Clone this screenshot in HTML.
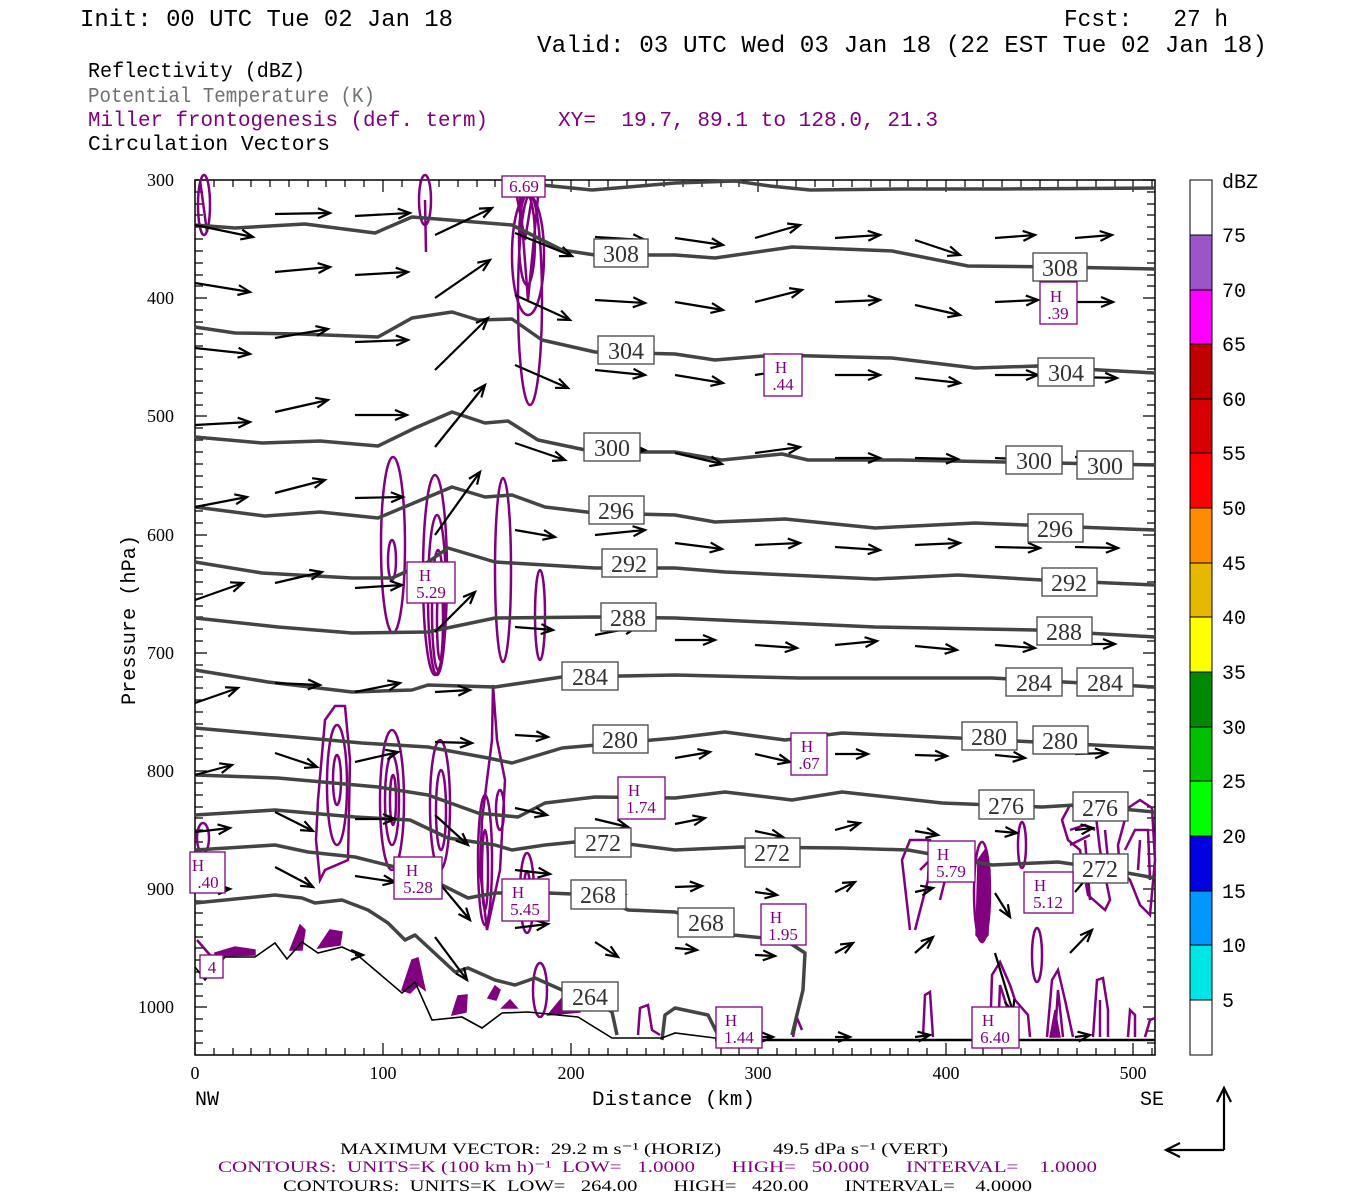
<!DOCTYPE html>
<html><head><meta charset="utf-8"><style>
html,body{margin:0;padding:0;background:#fff;}
svg{display:block;}
svg text{white-space:pre;}
</style></head><body>
<svg width="1350" height="1200" viewBox="0 0 1350 1200" xmlns="http://www.w3.org/2000/svg" xml:space="preserve">
<defs>
<marker id="ah" markerUnits="userSpaceOnUse" markerWidth="16" markerHeight="12" refX="13" refY="6" orient="auto">
<path d="M1,1 L13,6 L1,11" fill="none" stroke="#000" stroke-width="2.2"/>
</marker>
</defs>

<!-- Header -->
<g font-family="Liberation Mono, monospace" font-size="24" fill="#000">
<text x="80" y="26" textLength="373" lengthAdjust="spacingAndGlyphs">Init: 00 UTC Tue 02 Jan 18</text>
<text x="1064" y="26" textLength="164" lengthAdjust="spacingAndGlyphs">Fcst:   27 h</text>
<text x="537" y="52" textLength="730" lengthAdjust="spacingAndGlyphs">Valid: 03 UTC Wed 03 Jan 18 (22 EST Tue 02 Jan 18)</text>
</g>
<g font-family="Liberation Mono, monospace" font-size="21">
<text x="88" y="77" fill="#000" textLength="217" lengthAdjust="spacingAndGlyphs">Reflectivity (dBZ)</text>
<text x="88" y="102" fill="#707070" textLength="287" lengthAdjust="spacingAndGlyphs">Potential Temperature (K)</text>
<text x="88" y="126" fill="#800080" textLength="400" lengthAdjust="spacingAndGlyphs">Miller frontogenesis (def. term)</text>
<text x="558" y="126" fill="#800080" textLength="380" lengthAdjust="spacingAndGlyphs">XY=  19.7, 89.1 to 128.0, 21.3</text>
<text x="88" y="150" fill="#000" textLength="242" lengthAdjust="spacingAndGlyphs">Circulation Vectors</text>
</g>

<!-- Plot frame -->
<rect x="195" y="180" width="960" height="875" fill="#fff" stroke="#000" stroke-width="1.5"/>

<!-- Ticks -->
<g stroke="#000" stroke-width="1.2">
<path d="M195,180h12M195,192h8M195,204h8M195,215h8M195,227h8M195,239h8M195,251h8M195,263h8M195,275h8M195,286h8M195,298h12M195,310h8M195,322h8M195,334h8M195,346h8M195,357h8M195,369h8M195,381h8M195,393h8M195,405h8M195,416h12M195,428h8M195,440h8M195,452h8M195,464h8M195,476h8M195,487h8M195,499h8M195,511h8M195,523h8M195,535h12M195,546h8M195,558h8M195,570h8M195,582h8M195,594h8M195,606h8M195,617h8M195,629h8M195,641h8M195,653h12M195,665h8M195,677h8M195,688h8M195,700h8M195,712h8M195,724h8M195,736h8M195,748h8M195,759h8M195,771h12M195,783h8M195,795h8M195,807h8M195,818h8M195,830h8M195,842h8M195,854h8M195,866h8M195,878h8M195,889h12M195,901h8M195,913h8M195,925h8M195,937h8M195,948h8M195,960h8M195,972h8M195,984h8M195,996h8M195,1007h12M195,1019h8M195,1031h8M195,1043h8"/>
<path d="M1155,180h-12M1155,192h-8M1155,204h-8M1155,215h-8M1155,227h-8M1155,239h-8M1155,251h-8M1155,263h-8M1155,275h-8M1155,286h-8M1155,298h-12M1155,310h-8M1155,322h-8M1155,334h-8M1155,346h-8M1155,357h-8M1155,369h-8M1155,381h-8M1155,393h-8M1155,405h-8M1155,416h-12M1155,428h-8M1155,440h-8M1155,452h-8M1155,464h-8M1155,476h-8M1155,487h-8M1155,499h-8M1155,511h-8M1155,523h-8M1155,535h-12M1155,546h-8M1155,558h-8M1155,570h-8M1155,582h-8M1155,594h-8M1155,606h-8M1155,617h-8M1155,629h-8M1155,641h-8M1155,653h-12M1155,665h-8M1155,677h-8M1155,688h-8M1155,700h-8M1155,712h-8M1155,724h-8M1155,736h-8M1155,748h-8M1155,759h-8M1155,771h-12M1155,783h-8M1155,795h-8M1155,807h-8M1155,818h-8M1155,830h-8M1155,842h-8M1155,854h-8M1155,866h-8M1155,878h-8M1155,889h-12M1155,901h-8M1155,913h-8M1155,925h-8M1155,937h-8M1155,948h-8M1155,960h-8M1155,972h-8M1155,984h-8M1155,996h-8M1155,1007h-12M1155,1019h-8M1155,1031h-8M1155,1043h-8"/>
<path d="M195,180v12M214,180v7M233,180v7M251,180v7M270,180v7M289,180v7M308,180v7M326,180v7M345,180v7M364,180v7M383,180v12M402,180v7M420,180v7M439,180v7M458,180v7M477,180v7M495,180v7M514,180v7M533,180v7M552,180v7M571,180v12M589,180v7M608,180v7M627,180v7M646,180v7M664,180v7M683,180v7M702,180v7M721,180v7M739,180v7M758,180v12M777,180v7M796,180v7M815,180v7M833,180v7M852,180v7M871,180v7M890,180v7M908,180v7M927,180v7M946,180v12M965,180v7M983,180v7M1002,180v7M1021,180v7M1040,180v7M1058,180v7M1077,180v7M1096,180v7M1115,180v7M1133,180v12M1152,180v7"/>
<path d="M195,1055v-12M214,1055v-7M233,1055v-7M251,1055v-7M270,1055v-7M289,1055v-7M308,1055v-7M326,1055v-7M345,1055v-7M364,1055v-7M383,1055v-12M402,1055v-7M420,1055v-7M439,1055v-7M458,1055v-7M477,1055v-7M495,1055v-7M514,1055v-7M533,1055v-7M552,1055v-7M571,1055v-12M589,1055v-7M608,1055v-7M627,1055v-7M646,1055v-7M664,1055v-7M683,1055v-7M702,1055v-7M721,1055v-7M739,1055v-7M758,1055v-12M777,1055v-7M796,1055v-7M815,1055v-7M833,1055v-7M852,1055v-7M871,1055v-7M890,1055v-7M908,1055v-7M927,1055v-7M946,1055v-12M965,1055v-7M983,1055v-7M1002,1055v-7M1021,1055v-7M1040,1055v-7M1058,1055v-7M1077,1055v-7M1096,1055v-7M1115,1055v-7M1133,1055v-12M1152,1055v-7"/>
</g>

<!-- Axis labels -->
<g font-family="Liberation Serif, serif" font-size="18" fill="#000" text-anchor="end">
<text x="174" y="186">300</text><text x="174" y="304">400</text><text x="174" y="422">500</text>
<text x="174" y="541">600</text><text x="174" y="659">700</text><text x="174" y="777">800</text>
<text x="174" y="895">900</text><text x="174" y="1013">1000</text>
</g>
<g font-family="Liberation Serif, serif" font-size="18" fill="#000" text-anchor="middle">
<text x="195" y="1079">0</text><text x="383" y="1079">100</text><text x="571" y="1079">200</text>
<text x="758" y="1079">300</text><text x="946" y="1079">400</text><text x="1133" y="1079">500</text>
</g>
<g font-family="Liberation Mono, monospace" font-size="20" fill="#000">
<text x="195" y="1105">NW</text>
<text x="1140" y="1105">SE</text>
<text x="592" y="1105" textLength="163" lengthAdjust="spacingAndGlyphs">Distance (km)</text>
<text transform="translate(135,705) rotate(-90)" textLength="170" lengthAdjust="spacingAndGlyphs">Pressure (hPa)</text>
</g>

<!-- Purple frontogenesis contours -->
<g fill="none" stroke="#800080" stroke-width="2.5">
<ellipse cx="204" cy="205" rx="6" ry="30"/>
<path d="M200,180 L207,232"/>
<ellipse cx="425" cy="200" rx="6" ry="25"/>
<path d="M425,200 L426,252"/>
<ellipse cx="528" cy="255" rx="16" ry="60"/>
<ellipse cx="530" cy="300" rx="12" ry="105"/>
<ellipse cx="527" cy="240" rx="8" ry="45"/>
<path d="M517,197 L525,240 L532,197 M520,197 L528,300 L538,197"/>
<ellipse cx="393" cy="545" rx="12" ry="88"/>
<ellipse cx="392" cy="560" rx="4" ry="20"/>
<ellipse cx="435" cy="575" rx="12" ry="100"/>
<ellipse cx="437" cy="595" rx="9" ry="80"/>
<ellipse cx="438" cy="610" rx="6" ry="60"/>
<ellipse cx="440" cy="620" rx="3" ry="40"/>
<ellipse cx="503" cy="570" rx="8" ry="92"/>
<ellipse cx="540" cy="615" rx="5" ry="45"/>
<path d="M318,800 L325,720 L335,706 L345,706 L350,760 L348,860 L325,870 L320,880 L316,840 Z"/>
<ellipse cx="337" cy="785" rx="10" ry="60"/>
<ellipse cx="337" cy="780" rx="4" ry="25"/>
<ellipse cx="392" cy="800" rx="12" ry="70"/>
<ellipse cx="392" cy="800" rx="7" ry="45"/>
<ellipse cx="393" cy="800" rx="3" ry="25"/>
<ellipse cx="440" cy="805" rx="10" ry="65"/>
<ellipse cx="441" cy="810" rx="5" ry="40"/>
<path d="M493,685 L497,740 L505,780 L500,870 L487,930 L480,870 L482,820 L492,740 Z"/>
<ellipse cx="485" cy="860" rx="7" ry="65"/>
<ellipse cx="485" cy="870" rx="3" ry="40"/>
<ellipse cx="500" cy="810" rx="4" ry="20"/>
<ellipse cx="527" cy="893" rx="7" ry="40"/>
<ellipse cx="527" cy="893" rx="3" ry="22"/>
<ellipse cx="203" cy="838" rx="6" ry="15"/>
<path d="M197,940 L210,955 L210,965"/>
<ellipse cx="540" cy="990" rx="7" ry="27"/>
<path d="M910,930 L902,860 L910,840 L930,840 L928,880 L915,930"/>
<path d="M920,870 L930,860 L945,850 M945,880 L940,900"/>
<ellipse cx="982" cy="892" rx="8" ry="50"/>
<ellipse cx="1022" cy="845" rx="4" ry="23"/>
<path d="M1062,820 L1070,805 L1085,812 L1095,808 L1100,850 L1110,900 L1105,910 L1088,895 L1080,850 L1068,840 Z"/>
<path d="M1070,830 L1085,825 L1095,830 M1070,845 L1090,835"/>
<path d="M1118,845 L1128,808 L1140,800 L1152,808 L1155,860 L1150,915 L1140,905 L1130,880 L1120,870 Z"/>
<path d="M1125,850 L1135,830 L1148,830 L1150,880 M1138,870 L1140,840"/>
<path d="M1085,840 L1090,900 M1105,830 L1110,880"/>
<path d="M990,1037 L992,975 L1000,962 L1010,985 L1015,1000 L1028,1015 L1030,1037"/>
<path d="M998,1037 L1000,985 L1008,1010 L1010,1037"/>
<ellipse cx="1037" cy="955" rx="5" ry="27"/>
<path d="M1047,1037 L1052,980 L1058,970 L1065,1000 L1073,1037 M1055,1037 L1058,990 L1063,1037"/>
<path d="M1093,1037 L1097,980 L1103,978 L1108,1010 L1108,1037 M1100,1037 L1100,1000"/>
<path d="M1128,1037 L1130,1010 L1135,1015 L1135,1037"/>
<path d="M923,1037 L925,995 L930,992 L933,1037"/>
<path d="M1145,1037 L1150,1020 L1155,1018"/>
<path d="M793,1037 L797,1018 L802,1030"/>
<path d="M638,1035 L640,1008 L648,1005 L652,1030 L660,1035"/>
</g>
<g fill="#800080" stroke="#800080" stroke-width="1.5">
<path d="M290,950 L300,925 L305,930 L302,950 Z"/>
<path d="M318,948 L330,930 L342,932 L340,945 Z"/>
<path d="M402,990 L412,960 L418,958 L425,990 L418,985 L410,993 Z"/>
<path d="M452,1015 L458,996 L467,995 L466,1012 Z"/>
<path d="M488,998 L495,986 L500,990 L496,1000 Z"/>
<path d="M502,1008 L510,1000 L517,1008 Z"/>
<path d="M548,1015 L562,998 L578,1000 L580,1012 Z"/>
<path d="M215,953 L235,947 L255,950 L255,955 L215,956 Z"/>
<path d="M976,935 L978,860 L985,850 L990,870 L988,935 L982,942 Z"/>
<path d="M1000,1037 L1002,1020 L1006,1037 Z M1050,1037 L1055,1010 L1060,1037 Z"/>
</g>

<!-- Theta contours -->
<g fill="none" stroke="#444" stroke-width="3.5" stroke-linejoin="round">
<polyline points="542,185 592,190 640,186 675,183 735,181 770,186 810,190 900,189 1000,189 1155,188"/>
<polyline points="195,225 235,228 305,224 375,233 412,217 512,225 562,250 595,255 675,255 715,258 792,247 892,251 968,266 1060,267 1155,269"/>
<polyline points="195,327 235,333 300,334 378,337 412,318 452,312 478,320 512,319 542,340 595,352 675,354 715,360 775,355 892,358 975,368 1038,366 1100,370 1155,373"/>
<polyline points="195,437 262,443 320,441 378,446 415,428 452,412 485,423 508,421 538,440 595,452 675,452 722,460 782,454 808,460 900,460 1155,465"/>
<polyline points="195,507 265,516 320,512 378,518 452,487 485,497 512,495 545,507 595,513 675,515 715,522 785,519 875,528 975,523 1155,530"/>
<polyline points="195,562 262,573 352,578 392,578 428,562 448,548 495,562 595,568 675,568 725,572 875,579 958,575 1042,580 1155,585"/>
<polyline points="195,618 278,627 352,633 428,632 495,618 595,617 675,618 875,627 1035,630 1155,637"/>
<polyline points="195,670 268,682 352,692 412,690 428,685 495,687 562,677 675,675 800,678 992,678 1155,687"/>
<polyline points="195,728 295,737 362,743 428,747 488,758 512,763 562,748 675,738 725,732 785,740 842,733 958,738 1155,748"/>
<polyline points="195,775 278,778 378,787 428,795 478,813 518,817 545,803 595,797 675,798 725,792 792,800 842,792 942,803 1042,807 1075,805 1155,812"/>
<polyline points="195,815 275,810 355,817 410,820 448,838 495,845 512,850 545,845 575,842 620,843 675,850 742,847 842,848 908,850 992,865 1058,862 1100,868 1155,878"/>
<polyline points="195,850 275,845 308,852 355,857 395,867 442,885 468,898 495,893 548,893 598,895 628,910 675,912 705,922 733,935 785,940 805,953 803,990 792,1035"/>
<polyline points="195,903 275,895 302,898 315,903 342,900 368,910 388,923 405,940 415,935 428,947 455,972 468,968 495,980 515,985 535,978 562,990 590,997 612,1012 617,1035"/>
<polyline points="662,1040 665,1015 675,1008 708,1015 718,1035"/>
</g>
<polyline fill="none" stroke="#000" stroke-width="1.6" points="195,967 205,980 225,957 255,957 275,943 287,959 302,942 318,953 342,947 355,953 402,993 415,982 432,1020 462,1017 482,1028 502,1013 528,1012 578,1017 612,1038 662,1038 675,1033 715,1038 720,1040 1155,1040"/>
<line x1="715" y1="1040" x2="1155" y2="1040" stroke="#000" stroke-width="2.5"/>

<!-- Vectors -->
<g stroke="#000" stroke-width="2.2" marker-end="url(#ah)">
<line x1="195" y1="225" x2="253" y2="237"/><line x1="275" y1="214" x2="330" y2="213"/><line x1="355" y1="216" x2="410" y2="213"/><line x1="435" y1="235" x2="492" y2="208"/><line x1="515" y1="233" x2="572" y2="256"/><line x1="595" y1="237" x2="645" y2="240"/><line x1="675" y1="238" x2="723" y2="245"/><line x1="755" y1="238" x2="800" y2="225"/><line x1="835" y1="238" x2="880" y2="235"/><line x1="915" y1="240" x2="960" y2="255"/><line x1="995" y1="238" x2="1035" y2="235"/><line x1="1075" y1="238" x2="1112" y2="235"/>
<line x1="195" y1="283" x2="250" y2="292"/><line x1="275" y1="272" x2="330" y2="267"/><line x1="355" y1="275" x2="408" y2="272"/><line x1="435" y1="298" x2="490" y2="260"/><line x1="515" y1="295" x2="570" y2="320"/><line x1="595" y1="300" x2="645" y2="303"/><line x1="675" y1="302" x2="723" y2="310"/><line x1="755" y1="302" x2="802" y2="290"/><line x1="835" y1="302" x2="880" y2="300"/><line x1="915" y1="305" x2="960" y2="315"/><line x1="995" y1="302" x2="1038" y2="300"/><line x1="1075" y1="302" x2="1113" y2="302"/>
<line x1="195" y1="348" x2="250" y2="354"/><line x1="275" y1="338" x2="328" y2="329"/><line x1="355" y1="342" x2="408" y2="340"/><line x1="435" y1="370" x2="488" y2="318"/><line x1="515" y1="365" x2="568" y2="388"/><line x1="595" y1="370" x2="645" y2="375"/><line x1="675" y1="375" x2="723" y2="383"/><line x1="755" y1="375" x2="800" y2="368"/><line x1="835" y1="375" x2="880" y2="375"/><line x1="915" y1="378" x2="960" y2="383"/><line x1="995" y1="375" x2="1038" y2="375"/><line x1="1075" y1="377" x2="1117" y2="378"/>
<line x1="195" y1="425" x2="250" y2="422"/><line x1="275" y1="412" x2="328" y2="400"/><line x1="355" y1="415" x2="407" y2="415"/><line x1="435" y1="447" x2="485" y2="385"/><line x1="515" y1="443" x2="565" y2="460"/><line x1="595" y1="448" x2="645" y2="450"/><line x1="675" y1="453" x2="722" y2="464"/><line x1="755" y1="453" x2="800" y2="447"/><line x1="835" y1="458" x2="880" y2="458"/><line x1="915" y1="458" x2="958" y2="459"/><line x1="995" y1="458" x2="1037" y2="460"/><line x1="1075" y1="457" x2="1118" y2="459"/>
<line x1="195" y1="507" x2="247" y2="497"/><line x1="275" y1="493" x2="325" y2="480"/><line x1="355" y1="498" x2="403" y2="497"/><line x1="435" y1="535" x2="480" y2="472"/><line x1="515" y1="530" x2="555" y2="537"/><line x1="595" y1="535" x2="645" y2="530"/><line x1="675" y1="543" x2="722" y2="549"/><line x1="755" y1="545" x2="800" y2="543"/><line x1="835" y1="547" x2="880" y2="550"/><line x1="915" y1="545" x2="960" y2="543"/><line x1="995" y1="547" x2="1040" y2="548"/><line x1="1075" y1="547" x2="1118" y2="548"/>
<line x1="195" y1="600" x2="243" y2="583"/><line x1="275" y1="583" x2="322" y2="572"/><line x1="355" y1="588" x2="402" y2="585"/><line x1="435" y1="632" x2="475" y2="592"/><line x1="515" y1="627" x2="553" y2="630"/><line x1="595" y1="635" x2="637" y2="627"/><line x1="675" y1="640" x2="715" y2="640"/><line x1="755" y1="645" x2="797" y2="648"/><line x1="835" y1="645" x2="877" y2="641"/><line x1="915" y1="646" x2="957" y2="650"/><line x1="995" y1="645" x2="1035" y2="648"/><line x1="1075" y1="644" x2="1115" y2="644"/>
<line x1="195" y1="703" x2="238" y2="688"/><line x1="275" y1="683" x2="320" y2="685"/><line x1="355" y1="692" x2="400" y2="683"/><line x1="435" y1="692" x2="470" y2="690"/>
<line x1="195" y1="775" x2="232" y2="765"/><line x1="275" y1="753" x2="317" y2="767"/><line x1="355" y1="762" x2="398" y2="752"/><line x1="435" y1="742" x2="472" y2="743"/><line x1="515" y1="735" x2="548" y2="737"/><line x1="595" y1="741" x2="632" y2="739"/><line x1="675" y1="758" x2="710" y2="752"/><line x1="755" y1="754" x2="790" y2="762"/><line x1="835" y1="754" x2="868" y2="754"/><line x1="915" y1="755" x2="947" y2="756"/><line x1="995" y1="755" x2="1025" y2="758"/><line x1="1075" y1="754" x2="1107" y2="753"/>
<line x1="195" y1="832" x2="230" y2="828"/><line x1="275" y1="812" x2="313" y2="831"/><line x1="355" y1="819" x2="395" y2="819"/><line x1="435" y1="815" x2="468" y2="845"/><line x1="515" y1="808" x2="547" y2="815"/><line x1="595" y1="819" x2="628" y2="827"/><line x1="675" y1="824" x2="705" y2="818"/><line x1="755" y1="831" x2="783" y2="837"/><line x1="835" y1="830" x2="860" y2="823"/><line x1="915" y1="831" x2="938" y2="835"/><line x1="995" y1="831" x2="1017" y2="833"/><line x1="1075" y1="830" x2="1093" y2="828"/>
<line x1="195" y1="890" x2="230" y2="889"/><line x1="275" y1="867" x2="313" y2="887"/><line x1="355" y1="876" x2="395" y2="882"/><line x1="435" y1="878" x2="470" y2="920"/><line x1="515" y1="870" x2="550" y2="874"/><line x1="595" y1="882" x2="625" y2="894"/><line x1="675" y1="887" x2="702" y2="886"/><line x1="755" y1="892" x2="777" y2="895"/><line x1="835" y1="892" x2="855" y2="882"/><line x1="915" y1="892" x2="933" y2="888"/><line x1="995" y1="893" x2="1010" y2="917"/><line x1="1075" y1="892" x2="1092" y2="872"/>
<line x1="435" y1="937" x2="467" y2="980"/><line x1="515" y1="928" x2="548" y2="924"/><line x1="595" y1="942" x2="618" y2="957"/><line x1="675" y1="948" x2="697" y2="950"/><line x1="755" y1="955" x2="775" y2="956"/><line x1="835" y1="953" x2="853" y2="943"/><line x1="915" y1="953" x2="933" y2="937"/><line x1="995" y1="953" x2="1013" y2="1012"/><line x1="1070" y1="953" x2="1092" y2="930"/>
<line x1="355" y1="955" x2="363" y2="955"/>
<line x1="755" y1="1037" x2="773" y2="1037"/><line x1="835" y1="1037" x2="850" y2="1037"/><line x1="915" y1="1037" x2="930" y2="1035"/><line x1="995" y1="1038" x2="1013" y2="1042"/><line x1="1075" y1="1037" x2="1090" y2="1035"/>
</g>

<!-- Theta labels -->
<g font-family="Liberation Serif, serif" font-size="24" fill="#333" text-anchor="middle">
<g fill="#fff" stroke="#444" stroke-width="1.3">
<rect x="594" y="239" width="54" height="28"/><rect x="1033" y="253" width="54" height="28"/>
<rect x="598" y="336" width="56" height="28"/><rect x="1038" y="358" width="56" height="28"/>
<rect x="584" y="433" width="56" height="28"/><rect x="1006" y="446" width="56" height="28"/><rect x="1077" y="451" width="56" height="28"/>
<rect x="589" y="496" width="55" height="28"/><rect x="1028" y="514" width="55" height="28"/>
<rect x="602" y="549" width="55" height="28"/><rect x="1042" y="568" width="55" height="28"/>
<rect x="601" y="603" width="55" height="28"/><rect x="1037" y="617" width="55" height="28"/>
<rect x="562" y="662" width="56" height="28"/><rect x="1006" y="668" width="56" height="28"/><rect x="1077" y="668" width="56" height="28"/>
<rect x="593" y="725" width="55" height="28"/><rect x="962" y="722" width="55" height="28"/><rect x="1033" y="726" width="55" height="28"/>
<rect x="979" y="790" width="55" height="29"/><rect x="1073" y="792" width="55" height="29"/>
<rect x="575" y="828" width="56" height="29"/><rect x="745" y="838" width="55" height="29"/><rect x="1073" y="854" width="55" height="29"/>
<rect x="571" y="880" width="55" height="29"/><rect x="678" y="908" width="56" height="29"/>
<rect x="562" y="982" width="56" height="29"/>
</g>
<text x="621" y="262">308</text><text x="1060" y="276">308</text>
<text x="626" y="359">304</text><text x="1066" y="381">304</text>
<text x="612" y="456">300</text><text x="1034" y="469">300</text><text x="1105" y="474">300</text>
<text x="616" y="519">296</text><text x="1055" y="537">296</text>
<text x="629" y="572">292</text><text x="1069" y="591">292</text>
<text x="628" y="626">288</text><text x="1064" y="640">288</text>
<text x="590" y="685">284</text><text x="1034" y="691">284</text><text x="1105" y="691">284</text>
<text x="620" y="748">280</text><text x="989" y="745">280</text><text x="1060" y="749">280</text>
<text x="1006" y="814">276</text><text x="1100" y="816">276</text>
<text x="603" y="851">272</text><text x="772" y="861">272</text><text x="1100" y="877">272</text>
<text x="598" y="903">268</text><text x="706" y="931">268</text>
<text x="590" y="1005">264</text>
</g>

<!-- H labels -->
<g font-family="Liberation Serif, serif" font-size="17" fill="#800080" text-anchor="middle">
<g fill="#fff" stroke="#800080" stroke-width="1.3">
<rect x="502" y="176" width="43" height="21"/>
<rect x="1040" y="282" width="37" height="42"/>
<rect x="764" y="354" width="38" height="42"/>
<rect x="407" y="562" width="48" height="41"/>
<rect x="394" y="857" width="48" height="42"/>
<rect x="502" y="879" width="47" height="42"/>
<rect x="618" y="777" width="47" height="42"/>
<rect x="791" y="733" width="36" height="42"/>
<rect x="761" y="904" width="45" height="41"/>
<rect x="716" y="1007" width="46" height="41"/>
<rect x="972" y="1007" width="47" height="41"/>
<rect x="928" y="841" width="47" height="41"/>
<rect x="1024" y="872" width="49" height="41"/>
<rect x="190" y="852" width="35" height="41"/>
<rect x="200" y="955" width="23" height="23"/>
</g>
<text x="524" y="192">6.69</text>
<text x="1056" y="302">H</text><text x="1058" y="319">.39</text>
<text x="781" y="373">H</text><text x="783" y="390">.44</text>
<text x="425" y="581">H</text><text x="431" y="598">5.29</text>
<text x="412" y="876">H</text><text x="418" y="893">5.28</text>
<text x="518" y="898">H</text><text x="525" y="915">5.45</text>
<text x="634" y="796">H</text><text x="641" y="813">1.74</text>
<text x="807" y="752">H</text><text x="809" y="769">.67</text>
<text x="776" y="923">H</text><text x="783" y="940">1.95</text>
<text x="731" y="1026">H</text><text x="739" y="1043">1.44</text>
<text x="988" y="1026">H</text><text x="995" y="1043">6.40</text>
<text x="943" y="860">H</text><text x="951" y="877">5.79</text>
<text x="1040" y="891">H</text><text x="1048" y="908">5.12</text>
<text x="198" y="871">H</text><text x="208" y="888">.40</text>
<text x="212" y="973">4</text>
</g>

<!-- Colorbar -->
<g stroke="none">
<rect x="1190" y="180" width="22" height="55" fill="#fff"/>
<rect x="1190" y="235" width="22" height="55" fill="#9a55c8"/>
<rect x="1190" y="290" width="22" height="54" fill="#ff00ff"/>
<rect x="1190" y="344" width="22" height="55" fill="#c00000"/>
<rect x="1190" y="399" width="22" height="54" fill="#d80000"/>
<rect x="1190" y="453" width="22" height="55" fill="#ff0000"/>
<rect x="1190" y="508" width="22" height="55" fill="#ff8c00"/>
<rect x="1190" y="563" width="22" height="54" fill="#e6b800"/>
<rect x="1190" y="617" width="22" height="55" fill="#ffff00"/>
<rect x="1190" y="672" width="22" height="55" fill="#008800"/>
<rect x="1190" y="727" width="22" height="54" fill="#00c000"/>
<rect x="1190" y="781" width="22" height="55" fill="#00ff00"/>
<rect x="1190" y="836" width="22" height="55" fill="#0000e0"/>
<rect x="1190" y="891" width="22" height="54" fill="#0096ff"/>
<rect x="1190" y="945" width="22" height="55" fill="#00e6e6"/>
<rect x="1190" y="1000" width="22" height="55" fill="#fff"/>
</g>
<rect x="1190" y="180" width="22" height="875" fill="none" stroke="#000" stroke-width="1"/>
<g stroke="#000" stroke-width="1"><path d="M1190,235h22M1190,290h22M1190,344h22M1190,399h22M1190,453h22M1190,508h22M1190,563h22M1190,617h22M1190,672h22M1190,727h22M1190,781h22M1190,836h22M1190,891h22M1190,945h22M1190,1000h22"/></g>
<g font-family="Liberation Mono, monospace" font-size="20" fill="#000">
<text x="1222" y="188">dBZ</text>
<text x="1222" y="242">75</text><text x="1222" y="297">70</text><text x="1222" y="351">65</text>
<text x="1222" y="406">60</text><text x="1222" y="460">55</text><text x="1222" y="515">50</text>
<text x="1222" y="570">45</text><text x="1222" y="624">40</text><text x="1222" y="679">35</text>
<text x="1222" y="734">30</text><text x="1222" y="788">25</text><text x="1222" y="843">20</text>
<text x="1222" y="898">15</text><text x="1222" y="952">10</text><text x="1222" y="1007">5</text>
</g>

<!-- Reference vectors -->
<g stroke="#000" stroke-width="2.2" fill="none">
<line x1="1224" y1="1150" x2="1224" y2="1088"/>
<path d="M1217,1102 L1224,1088 L1231,1102"/>
<line x1="1224" y1="1150" x2="1166" y2="1150"/>
<path d="M1180,1143 L1166,1150 L1180,1157"/>
</g>

<!-- Footer -->
<g font-family="Liberation Serif, serif" font-size="16">
<text x="340" y="1154" fill="#000" textLength="608" lengthAdjust="spacingAndGlyphs">MAXIMUM VECTOR:  29.2 m s⁻¹ (HORIZ)          49.5 dPa s⁻¹ (VERT)</text>
<text x="218" y="1172" fill="#800080" textLength="879" lengthAdjust="spacingAndGlyphs">CONTOURS:  UNITS=K (100 km h)⁻¹  LOW=   1.0000       HIGH=   50.000       INTERVAL=    1.0000</text>
<text x="283" y="1191" fill="#000" textLength="749" lengthAdjust="spacingAndGlyphs">CONTOURS:  UNITS=K  LOW=   264.00       HIGH=   420.00       INTERVAL=    4.0000</text>
</g>
</svg>
</body></html>
